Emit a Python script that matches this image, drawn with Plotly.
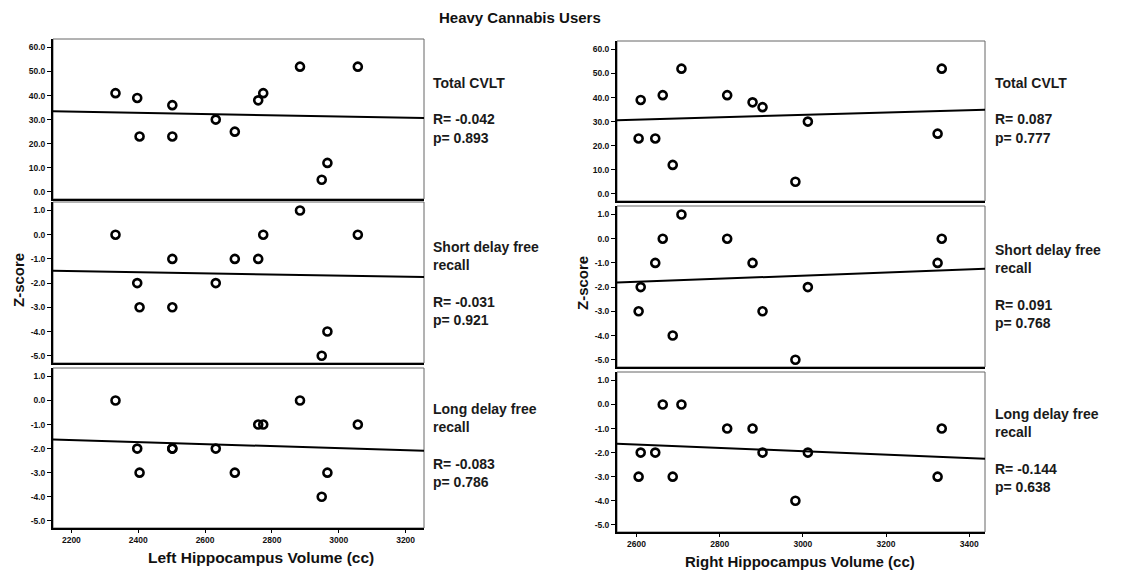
import numpy as np
import plotly.graph_objects as go

# ---------------- data ----------------
left_volume = [2332, 2397, 2404, 2502, 2502, 2632, 2689, 2759, 2774, 2884, 2949, 2966, 3057]
left_total = [41, 39, 23, 36, 23, 30, 25, 38, 41, 52, 5, 12, 52]
left_short = [0, -2, -3, -1, -3, -2, -1, -1, 0, 1, -5, -4, 0]
left_long = [0, -2, -3, -2, -2, -2, -3, -1, -1, 0, -4, -3, -1]

right_volume = [2605, 2610, 2645, 2663, 2687, 2708, 2818, 2879, 2903, 2982, 3012, 3324, 3334]
right_total = [23, 39, 23, 41, 12, 52, 41, 38, 36, 5, 30, 25, 52]
right_short = [-3, -2, -1, 0, -4, 1, 0, -1, -3, -5, -2, -1, 0]
right_long = [-3, -2, -2, 0, -3, 0, -1, -1, -2, -4, -2, -3, -1]

measures = ["Total CVLT", "Short delay free<br>recall", "Long delay free<br>recall"]
left_r = ["-0.042", "-0.031", "-0.083"]
left_p = ["0.893", "0.921", "0.786"]
right_r = ["0.087", "0.091", "-0.144"]
right_p = ["0.777", "0.768", "0.638"]

total_ticks = [0, 10, 20, 30, 40, 50, 60]
total_ticktext = ["0.0", "10.0", "20.0", "30.0", "40.0", "50.0", "60.0"]
z_ticks = [-5, -4, -3, -2, -1, 0, 1]
z_ticktext = ["-5.0", "-4.0", "-3.0", "-2.0", "-1.0", "0.0", "1.0"]
left_xticks = [2200, 2400, 2600, 2800, 3000, 3200]
right_xticks = [2600, 2800, 3000, 3200, 3400]

title_text = "Heavy Cannabis Users"
left_xtitle = "Left Hippocampus Volume (cc)"
right_xtitle = "Right Hippocampus Volume (cc)"
ytitle = "Z-score"

# ---------------- layout geometry (page pixels) ----------------
OFF = 8                      # default page body margin
W, H = 1126 - OFF, 574 - OFF
FONT = "Liberation Sans, Arial, sans-serif"

def fx(px):
    return (px - OFF) / W

def fy(py):
    return 1 - (py - OFF) / H

left_cols = (53, 424)
right_cols = (617, 985)
left_rows = [(39, 199), (202, 363), (368, 528)]
right_rows = [(41, 201), (206, 367), (372, 532)]
left_xrange = [2145, 3255]
right_xrange = [2553, 3438]
yranges = [[-3.0, 63.5], [-5.3, 1.35], [-5.3, 1.35]]

fig = go.Figure()
layout = dict(
    width=W, height=H, autosize=False,
    margin=dict(l=0, r=0, t=0, b=0),
    paper_bgcolor="white", plot_bgcolor="white",
    showlegend=False,
    font=dict(family=FONT, color="#111"),
)
shapes = []
annotations = []

panels = []
for side, (vol, series, cols, rows, xr, xt) in enumerate([
    (left_volume, [left_total, left_short, left_long], left_cols, left_rows, left_xrange, left_xticks),
    (right_volume, [right_total, right_short, right_long], right_cols, right_rows, right_xrange, right_xticks),
]):
    for r in range(3):
        idx = side * 3 + r + 1
        panels.append((idx, vol, series[r], cols, rows[r], xr, xt, r))

tickfont = dict(family=FONT, size=8.5, color="#111", weight="bold")

for idx, vol, yvals, cols, rowpx, xr, xt, r in panels:
    xa = "x" if idx == 1 else f"x{idx}"
    ya = "y" if idx == 1 else f"y{idx}"
    xkey = "xaxis" if idx == 1 else f"xaxis{idx}"
    ykey = "yaxis" if idx == 1 else f"yaxis{idx}"

    # scatter points
    fig.add_trace(go.Scatter(
        x=vol, y=yvals, mode="markers", xaxis=xa, yaxis=ya,
        marker=dict(symbol="circle-open", size=8, color="black", line=dict(width=2.6)),
        cliponaxis=False,
    ))
    # least-squares fit line
    slope, intercept = np.polyfit(vol, yvals, 1)
    x_line = np.array(xr, dtype=float)
    fig.add_trace(go.Scatter(
        x=x_line, y=slope * x_line + intercept, mode="lines", xaxis=xa, yaxis=ya,
        line=dict(color="black", width=2),
    ))

    bottom = (r == 2)
    layout[xkey] = dict(
        domain=[fx(cols[0]), fx(cols[1])], anchor=ya, range=xr,
        showgrid=False, zeroline=False,
        showline=True, linecolor="black", linewidth=2,
        ticks="outside" if bottom else "", ticklen=3, tickwidth=1, tickcolor="black",
        tickvals=xt, ticktext=[str(v) for v in xt],
        showticklabels=bottom, tickfont=tickfont,
    )
    if r == 0:
        tv, tt = total_ticks, total_ticktext
    else:
        tv, tt = z_ticks, z_ticktext
    layout[ykey] = dict(
        domain=[fy(rowpx[1]), fy(rowpx[0])], anchor=xa, range=yranges[r],
        showgrid=False, zeroline=False,
        showline=True, linecolor="black", linewidth=2,
        ticks="outside", ticklen=4, tickwidth=1, tickcolor="black",
        tickvals=tv, ticktext=tt, tickfont=tickfont,
    )
    # thin frame (top / right)
    shapes.append(dict(
        type="rect", xref=f"{xa} domain", yref=f"{ya} domain",
        x0=0, x1=1, y0=0, y1=1, line=dict(color="#666", width=1), layer="below",
    ))

# stats text blocks
stat_font = dict(family=FONT, size=14, color="#1a1a1a", weight="bold")
left_centers = [110.5, 283.5, 446]
right_centers = [110.5, 286.5, 450.5]
for i in range(3):
    annotations.append(dict(
        xref="paper", yref="paper", x=fx(431), y=fy(left_centers[i]),
        xanchor="left", yanchor="middle", align="left", showarrow=False,
        text=f"{measures[i]}<br><br>R= {left_r[i]}<br>p= {left_p[i]}", font=stat_font,
    ))
    annotations.append(dict(
        xref="paper", yref="paper", x=fx(993), y=fy(right_centers[i]),
        xanchor="left", yanchor="middle", align="left", showarrow=False,
        text=f"{measures[i]}<br><br>R= {right_r[i]}<br>p= {right_p[i]}", font=stat_font,
    ))

# titles
annotations.append(dict(
    xref="paper", yref="paper", x=fx(520), y=1.0, xanchor="center", yanchor="top",
    showarrow=False, text=title_text, borderpad=0,
    font=dict(family=FONT, size=15, color="#111", weight="bold"),
))
annotations.append(dict(
    xref="paper", yref="paper", x=fx(261), y=fy(557), xanchor="center", yanchor="middle",
    showarrow=False, text=left_xtitle,
    font=dict(family=FONT, size=15.5, color="#111", weight="bold"),
))
annotations.append(dict(
    xref="paper", yref="paper", x=fx(800), y=fy(561), xanchor="center", yanchor="middle",
    showarrow=False, text=right_xtitle,
    font=dict(family=FONT, size=15, color="#111", weight="bold"),
))
yt_font = dict(family=FONT, size=15, color="#111", weight="bold")
annotations.append(dict(
    xref="paper", yref="paper", x=fx(18), y=fy(280), xanchor="center", yanchor="middle",
    showarrow=False, text=ytitle, textangle=-90, font=yt_font,
))
annotations.append(dict(
    xref="paper", yref="paper", x=fx(582), y=fy(283), xanchor="center", yanchor="middle",
    showarrow=False, text=ytitle, textangle=-90, font=yt_font,
))

layout["shapes"] = shapes
layout["annotations"] = annotations
fig.update_layout(**layout)
fig.write_html("out.html")
